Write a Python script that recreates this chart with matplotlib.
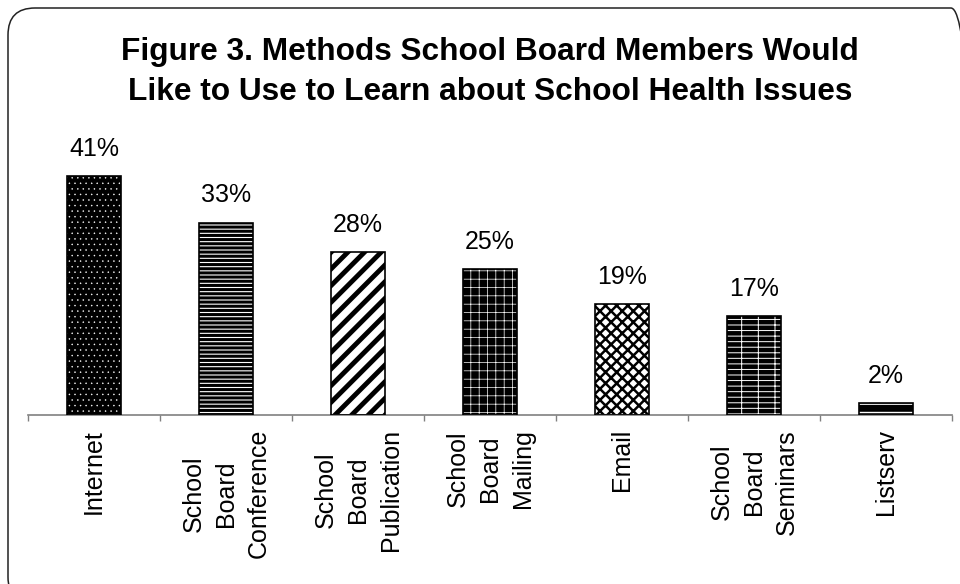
import matplotlib
matplotlib.use('Agg')
import matplotlib.pyplot as plt
from matplotlib.patches import FancyBboxPatch
from matplotlib.transforms import IdentityTransform

# Data
methods = ['Internet', 'School\nBoard\nConference', 'School\nBoard\nPublication',
           'School\nBoard\nMailing', 'Email', 'School\nBoard\nSeminars', 'Listserv']
percents = [41, 33, 28, 25, 19, 17, 2]
labels = ['41%', '33%', '28%', '25%', '19%', '17%', '2%']

# Fill styles: (face colour, hatch colour, hatch pattern, hatch line width)
styles = [
    ('black', 'white', '...', 0.3),
    ('white', 'black', '----', 2.2),
    ('white', 'black', '//', 3.5),
    ('black', 'white', '++', 0.5),
    ('white', 'black', 'xxx', 1.8),
    ('black', 'white', '---|', 0.7),
    ('black', 'white', '--', 1.0),
]

plt.rcParams['font.family'] = ['Liberation Sans', 'DejaVu Sans']

fig = plt.figure(figsize=(9.6, 5.84), dpi=100)
ax = fig.add_axes([28 / 960, 1 - 415 / 584, 924 / 960, 315 / 584])

x = list(range(len(methods)))
for i, (pct, st) in enumerate(zip(percents, styles)):
    face, hcol, hatch, hlw = st
    with plt.rc_context({'hatch.linewidth': hlw}):
        # filled bar with hatch drawn in the hatch colour
        ax.bar(x[i], pct, width=0.41, color=face, edgecolor=hcol,
               hatch=hatch, linewidth=0, zorder=2)
    # black outline on top
    ax.bar(x[i], pct, width=0.41, color='none', edgecolor='black',
           linewidth=1.2, zorder=3)
    ax.annotate(labels[i], (x[i], pct), xytext=(0, 14.5),
                textcoords='offset points', ha='center', va='baseline',
                fontsize=18)

ax.set_xlim(-0.5, len(methods) - 0.5)
ax.set_ylim(0, 54)
ax.set_yticks([])
for s in ['top', 'right', 'left']:
    ax.spines[s].set_visible(False)
ax.spines['bottom'].set_color('#808080')
ax.spines['bottom'].set_linewidth(1.2)

ax.set_xticks(x)
ax.set_xticklabels(methods, rotation=90, fontsize=18, ha='center', va='top',
                   multialignment='center', linespacing=1.45)
ax.tick_params(axis='x', which='major', length=0, pad=10)
ax.set_xticks([i - 0.5 for i in range(len(methods) + 1)], minor=True)
ax.tick_params(axis='x', which='minor', length=4.5, color='#808080',
               width=1.0, direction='out')

fig.text(490 / 960, 1 - 37 / 584,
         'Figure 3. Methods School Board Members Would\n'
         'Like to Use to Learn about School Health Issues',
         ha='center', va='top', fontsize=22.8, fontweight='bold',
         linespacing=1.45)

# rounded frame around the chart, running off the right and bottom edges
frame = FancyBboxPatch((8, -20), 970, 596,
                       boxstyle='round,pad=0,rounding_size=27',
                       transform=IdentityTransform(), fill=False,
                       edgecolor='#222222', linewidth=1.1)
fig.add_artist(frame)

fig.savefig('out.png', dpi=100)
